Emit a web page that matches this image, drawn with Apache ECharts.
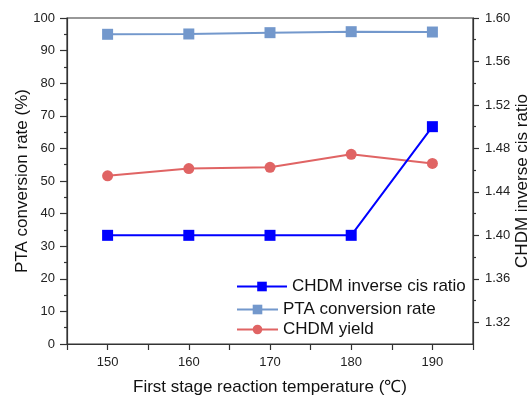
<!DOCTYPE html>
<html><head><meta charset="utf-8">
<script src="https://cdn.jsdelivr.net/npm/echarts@6/dist/echarts.min.js"></script>
<style>html,body{margin:0;padding:0;background:#fff}#c{width:528px;height:396px}</style>
</head><body><div id="c"></div>
<script>
const temperatures = [150, 160, 170, 180, 190];
const ptaConversion = [95.0, 95.1, 95.5, 95.8, 95.7];
const chdmYield = [51.6, 53.8, 54.2, 58.2, 55.4];
const cisRatio = [1.40, 1.40, 1.40, 1.40, 1.50];
const xTickLabels = [150, 160, 170, 180, 190];
const rightTickLabels = [1.32, 1.36, 1.40, 1.44, 1.48, 1.52, 1.56, 1.60];
const rightMinorTicks = [1.34, 1.38, 1.42, 1.46, 1.50, 1.54, 1.58];

const FONT = 'Liberation Sans, Arial, sans-serif';
const AX = '#333';
const chart = echarts.init(document.getElementById('c'));
const pair = arr => temperatures.map((t, i) => [t, arr[i]]);

chart.setOption({
  animation: false,
  textStyle: {fontFamily: FONT},
  grid: {left: 67, right: 55, top: 18, bottom: 52, show: true, borderColor: AX, borderWidth: 1.2,
    containLabel: false, outerBoundsMode: 'none'},
  legend: [{
    data: ['CHDM inverse cis ratio'],
    orient: 'vertical', left: 236, top: 278, padding: 0, itemWidth: 50, itemHeight: 12,
    textStyle: {fontSize: 17, color: '#111', fontFamily: FONT}
  }, {
    data: ['PTA conversion rate', 'CHDM yield'],
    orient: 'vertical', left: 236, top: 301, padding: 0, itemWidth: 41, itemHeight: 12, itemGap: 3,
    textStyle: {fontSize: 17, color: '#111', fontFamily: FONT}
  }],
  xAxis: {
    type: 'value', min: 145, max: 195, interval: 5,
    name: 'First stage reaction temperature (\u2103)', nameLocation: 'middle', nameGap: 35,
    nameTextStyle: {fontSize: 17, color: '#111', fontFamily: FONT},
    axisLine: {lineStyle: {color: AX, width: 1.2}},
    axisTick: {length: 6, lineStyle: {color: AX, width: 1.2}},
    axisLabel: {fontSize: 13, color: '#222', margin: 12,
      formatter: v => xTickLabels.includes(v) ? String(v) : ''},
    splitLine: {show: false}
  },
  yAxis: [{
    type: 'value', min: 0, max: 100, interval: 10,
    name: 'PTA conversion rate (%)', nameLocation: 'middle', nameGap: 36, nameMoveOverlap: false,
    nameTextStyle: {fontSize: 17, color: '#111', fontFamily: FONT},
    axisLine: {show: true, lineStyle: {color: AX, width: 1.2}},
    axisTick: {length: 7, lineStyle: {color: AX, width: 1.2}},
    minorTick: {show: true, splitNumber: 2, length: 3, lineStyle: {color: AX, width: 1.2}},
    axisLabel: {fontSize: 13, color: '#222', margin: 12},
    splitLine: {show: false}
  }, {
    type: 'value', min: 1.30, max: 1.60, position: 'right',
    name: 'CHDM inverse cis ratio', nameLocation: 'middle', nameGap: 41, nameRotate: 90, nameMoveOverlap: false,
    nameTextStyle: {fontSize: 17, color: '#111', fontFamily: FONT},
    axisLine: {show: true, lineStyle: {color: AX, width: 1.2}},
    axisTick: {length: 6, lineStyle: {color: AX, width: 1.2}, customValues: rightTickLabels},
    axisLabel: {fontSize: 13, color: '#222', margin: 12, customValues: rightTickLabels,
      formatter: v => v.toFixed(2)},
    splitLine: {show: false}
  }, {
    type: 'value', min: 1.30, max: 1.60, position: 'right',
    axisLine: {show: false},
    axisTick: {length: 3, lineStyle: {color: AX, width: 1.2}, customValues: rightMinorTicks},
    axisLabel: {show: false, customValues: rightMinorTicks},
    splitLine: {show: false}
  }],
  series: [{
    name: 'PTA conversion rate', type: 'line', data: pair(ptaConversion),
    symbol: 'rect', symbolSize: 11,
    itemStyle: {color: '#7398CC'}, lineStyle: {color: '#7398CC', width: 2}
  }, {
    name: 'CHDM yield', type: 'line', data: pair(chdmYield),
    symbol: 'circle', symbolSize: 11,
    itemStyle: {color: '#E06464'}, lineStyle: {color: '#E06464', width: 2}
  }, {
    name: 'CHDM inverse cis ratio', type: 'line', yAxisIndex: 1, data: pair(cisRatio),
    symbol: 'rect', symbolSize: 11,
    itemStyle: {color: '#0000FF'}, lineStyle: {color: '#0000FF', width: 2}
  }]
});
</script></body></html>
